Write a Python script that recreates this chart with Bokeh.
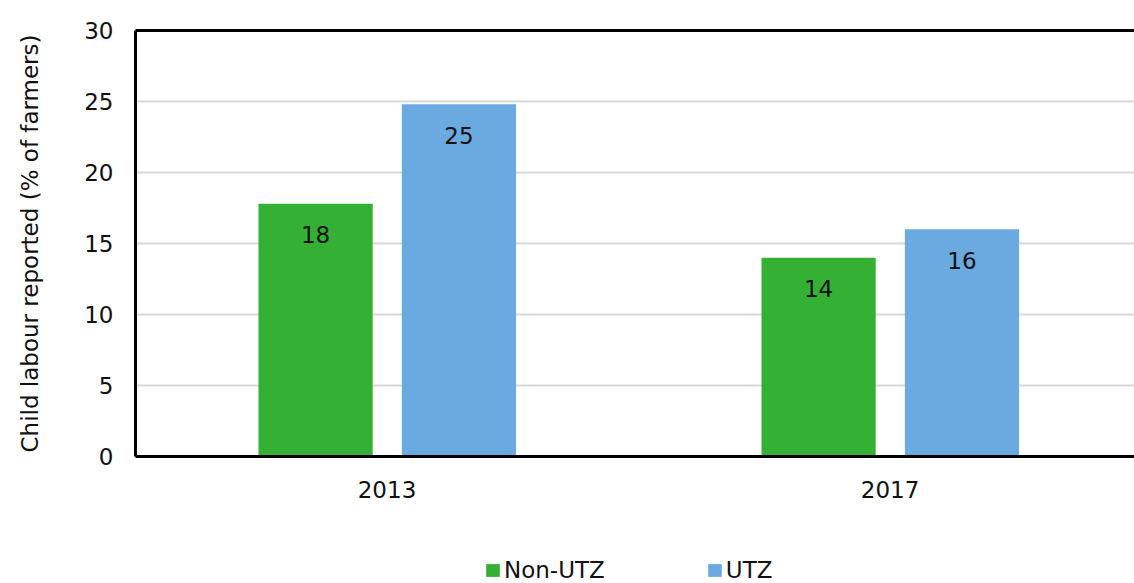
from bokeh.plotting import figure
from bokeh.layouts import column
from bokeh.models import (ColumnDataSource, Range1d, FixedTicker, LinearAxis, Legend, LegendItem)
from bokeh.core.properties import value
from bokeh.transform import dodge
from bokeh.embed import file_html
from bokeh.resources import INLINE

# ---- data ----
years = ["2013", "2017"]
non_utz = [17.8, 14.0]
utz = [24.8, 16.0]
series_names = ["Non-UTZ", "UTZ"]
colors = ["#34b034", "#6aaae0"]
y_ticks = [0, 5, 10, 15, 20, 25, 30]

FONT = "DejaVu Sans"
FS = "23px"

xpos = [i + 0.5 for i in range(len(years))]
src = ColumnDataSource(dict(
    x=xpos, non_utz=non_utz, utz=utz,
    non_lab=[f"{v:.0f}" for v in non_utz],
    utz_lab=[f"{v:.0f}" for v in utz],
))

p = figure(width=1134, height=520, output_backend="svg", toolbar_location=None,
           x_range=Range1d(0, 1.986), y_range=Range1d(0, 30),
           min_border_left=135, min_border_right=0, min_border_top=30, min_border_bottom=64)
p.outline_line_color = None
p.background_fill_color = "white"
p.border_fill_color = "white"

r1 = p.vbar(x=dodge("x", -0.142, range=p.x_range), top="non_utz", width=0.227, source=src,
            fill_color=colors[0], line_color=None)
r2 = p.vbar(x=dodge("x", 0.143, range=p.x_range), top="utz", width=0.227, source=src,
            fill_color=colors[1], line_color=None)

p.text(x=dodge("x", -0.142, range=p.x_range), y="non_utz", text="non_lab", source=src,
       text_align="center", text_baseline="middle", y_offset=31,
       text_font=value(FONT), text_font_size=FS, text_color="#111111")
p.text(x=dodge("x", 0.143, range=p.x_range), y="utz", text="utz_lab", source=src,
       text_align="center", text_baseline="middle", y_offset=31,
       text_font=value(FONT), text_font_size=FS, text_color="#111111")

# axes
xa = p.xaxis[0]
xa.ticker = FixedTicker(ticks=xpos)
xa.major_label_overrides = {x: y for x, y in zip(xpos, years)}
xa.major_tick_line_color = None
xa.minor_tick_line_color = None
xa.axis_line_color = "black"
xa.axis_line_width = 3
xa.major_label_standoff = 18
xa.major_label_text_font = FONT
xa.major_label_text_font_size = FS
xa.major_label_text_color = "#111111"

ya = p.yaxis[0]
ya.ticker = FixedTicker(ticks=y_ticks)
ya.major_tick_line_color = None
ya.minor_tick_line_color = None
ya.axis_line_color = "black"
ya.axis_line_width = 3
ya.major_label_standoff = 16
ya.major_label_text_font = FONT
ya.major_label_text_font_size = FS
ya.major_label_text_color = "#111111"
ya.axis_label = "Child labour reported (% of farmers)"
ya.axis_label_text_font = FONT
ya.axis_label_text_font_size = FS
ya.axis_label_text_font_style = "normal"
ya.axis_label_text_color = "#111111"
ya.axis_label_standoff = 38

top_axis = LinearAxis(ticker=FixedTicker(ticks=[]), axis_line_color="black", axis_line_width=3,
                      major_tick_line_color=None, minor_tick_line_color=None,
                      major_label_text_font_size="0px")
p.add_layout(top_axis, "above")

p.xgrid.grid_line_color = None
p.ygrid.ticker = FixedTicker(ticks=y_ticks)
p.ygrid.grid_line_color = "#d9d9d9"
p.ygrid.grid_line_width = 2

# ---- legend strip below the chart (proxy bars kept entirely out of view) ----
lf = figure(width=1134, height=63, output_backend="svg", toolbar_location=None,
            x_range=Range1d(-11, -10), y_range=Range1d(-12, -11),
            x_axis_location=None, y_axis_location=None,
            min_border_left=0, min_border_right=0, min_border_top=0, min_border_bottom=0)
lf.outline_line_color = None
lf.xgrid.visible = False
lf.ygrid.visible = False
g1 = lf.vbar(x=xpos, top=non_utz, width=0.1, fill_color=colors[0], line_color=None)
g2 = lf.vbar(x=xpos, top=utz, width=0.1, fill_color=colors[1], line_color=None)

legend = Legend(items=[LegendItem(label=series_names[0], renderers=[g1]),
                       LegendItem(label=series_names[1], renderers=[g2])],
                orientation="horizontal", location=(349, 0),
                padding=0, margin=0, spacing=101, label_standoff=3,
                glyph_width=17, glyph_height=16,
                label_text_font=FONT, label_text_font_size=FS, label_text_color="#111111",
                border_line_color=None, background_fill_alpha=0)
lf.add_layout(legend, "center")

layout = column(p, lf, spacing=0)
open("out.html", "w").write(file_html(layout, INLINE))
